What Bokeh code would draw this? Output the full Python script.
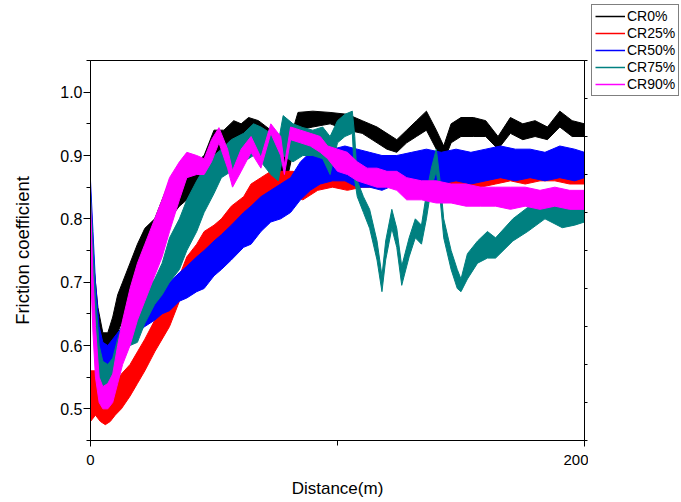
from bokeh.plotting import figure
from bokeh.layouts import row, column
from bokeh.models import (Range1d, LinearAxis, FixedTicker, Legend, LegendItem,
                          PrintfTickFormatter, Spacer)
from bokeh.embed import file_html
from bokeh.resources import INLINE

# ---------------- data ----------------
series_names = ["CR0%", "CR25%", "CR50%", "CR75%", "CR90%"]
series_colors = ["#000000", "#ff0000", "#0000ff", "#008080", "#ff00ff"]

cr0_d = [0, 1.5, 3, 5, 7, 9, 11, 13, 16, 19, 22, 26, 29, 32, 36, 39, 43, 46, 50, 54,
         58, 61, 64, 68, 73, 77, 80, 84, 90, 97, 104, 110, 116, 120, 124, 128, 132, 136, 140, 143,
         146, 150, 155, 160, 165, 170, 175, 180, 185, 190, 195, 200]
cr0_lo = [0.72, 0.63, 0.57, 0.55, 0.56, 0.59, 0.62, 0.64, 0.67, 0.71, 0.74, 0.765, 0.79, 0.80, 0.82, 0.83, 0.85, 0.845, 0.88, 0.89,
          0.90, 0.91, 0.91, 0.90, 0.88, 0.87, 0.87, 0.94, 0.945, 0.95, 0.94, 0.935, 0.92, 0.91, 0.905, 0.92, 0.93, 0.94, 0.91, 0.89,
          0.92, 0.93, 0.93, 0.93, 0.91, 0.935, 0.925, 0.93, 0.925, 0.945, 0.93, 0.93]
cr0_hi = [0.815, 0.72, 0.66, 0.62, 0.62, 0.645, 0.68, 0.70, 0.73, 0.76, 0.785, 0.80, 0.83, 0.86, 0.88, 0.90, 0.89, 0.90, 0.94, 0.94,
          0.955, 0.95, 0.96, 0.955, 0.94, 0.91, 0.915, 0.968, 0.97, 0.968, 0.965, 0.955, 0.945, 0.935, 0.925, 0.94, 0.955, 0.97, 0.94, 0.915,
          0.95, 0.96, 0.96, 0.955, 0.93, 0.96, 0.95, 0.955, 0.945, 0.97, 0.955, 0.95]

cr25_d = [0, 2, 4, 6, 8, 10, 12.5, 16, 19, 22, 26, 29, 32, 36, 39, 43, 46, 50, 53, 57,
          62, 65, 69, 73, 78, 82, 86, 92, 98, 104, 110, 116, 122, 128, 134, 140, 146, 152, 158, 164,
          170, 176, 182, 188, 194, 200]
cr25_lo = [0.48, 0.49, 0.48, 0.475, 0.48, 0.49, 0.50, 0.52, 0.54, 0.56, 0.59, 0.61, 0.63, 0.67, 0.70, 0.71, 0.73, 0.75, 0.76, 0.77,
           0.79, 0.81, 0.82, 0.83, 0.84, 0.835, 0.83, 0.845, 0.85, 0.845, 0.85, 0.85, 0.86, 0.865, 0.85, 0.85, 0.85, 0.85, 0.85, 0.855,
           0.86, 0.855, 0.86, 0.86, 0.855, 0.855]
cr25_hi = [0.56, 0.56, 0.52, 0.515, 0.52, 0.54, 0.555, 0.57, 0.59, 0.61, 0.64, 0.66, 0.68, 0.71, 0.74, 0.76, 0.78, 0.79, 0.80, 0.82,
           0.835, 0.855, 0.865, 0.875, 0.875, 0.875, 0.87, 0.88, 0.88, 0.88, 0.88, 0.88, 0.89, 0.895, 0.88, 0.88, 0.885, 0.885, 0.88, 0.89,
           0.895, 0.89, 0.895, 0.89, 0.885, 0.885]

cr50_d = [0, 1, 2, 3.5, 5, 7, 9, 11, 13, 16, 19, 22, 26, 29, 32, 36, 39, 43, 46, 50,
          53, 57, 62, 65, 69, 73, 77, 81, 85, 89, 93, 98, 103, 108, 113, 118, 124, 130, 136, 142,
          148, 154, 160, 166, 172, 178, 184, 190, 196, 200]
cr50_lo = [0.78, 0.70, 0.62, 0.58, 0.57, 0.565, 0.575, 0.585, 0.59, 0.605, 0.62, 0.63, 0.64, 0.65, 0.655, 0.67, 0.675, 0.685, 0.69, 0.71,
           0.72, 0.735, 0.755, 0.76, 0.78, 0.795, 0.80, 0.81, 0.83, 0.845, 0.855, 0.86, 0.86, 0.85, 0.85, 0.845, 0.855, 0.86, 0.86, 0.855,
           0.86, 0.855, 0.86, 0.865, 0.86, 0.865, 0.86, 0.865, 0.86, 0.865]
cr50_hi = [0.86, 0.78, 0.70, 0.63, 0.605, 0.60, 0.61, 0.62, 0.63, 0.645, 0.655, 0.665, 0.675, 0.69, 0.70, 0.715, 0.725, 0.74, 0.75, 0.765,
           0.775, 0.79, 0.81, 0.82, 0.835, 0.845, 0.855, 0.865, 0.89, 0.905, 0.91, 0.91, 0.915, 0.91, 0.905, 0.90, 0.90, 0.905, 0.91, 0.905,
           0.91, 0.905, 0.91, 0.915, 0.91, 0.91, 0.905, 0.915, 0.91, 0.905]

cr75_d = [0, 1, 2, 3.5, 5, 7, 9, 11, 13, 16, 19, 22, 26, 29, 32, 36, 39, 43, 46, 50,
          53, 57, 62, 66, 69, 73, 76, 78, 82, 86, 90, 94, 97, 100, 103, 106, 107, 108, 110.5, 113,
          116, 118, 119.5, 122, 124, 126, 129, 131.5, 134, 136, 138, 140, 141.7, 143, 146, 148.5, 150, 152.6, 156.7, 160.7,
          164, 171, 177, 184, 191, 196, 200]
cr75_lo = [0.75, 0.68, 0.60, 0.545, 0.53, 0.525, 0.535, 0.56, 0.59, 0.60, 0.605, 0.635, 0.665, 0.68, 0.70, 0.72, 0.75, 0.78, 0.81, 0.84,
           0.865, 0.875, 0.89, 0.90, 0.89, 0.87, 0.86, 0.90, 0.89, 0.90, 0.90, 0.895, 0.87, 0.92, 0.93, 0.935, 0.86, 0.835, 0.81, 0.785,
           0.735, 0.685, 0.735, 0.785, 0.755, 0.695, 0.74, 0.77, 0.76, 0.80, 0.85, 0.875, 0.825, 0.77, 0.72, 0.69, 0.685, 0.705, 0.73, 0.738,
           0.738, 0.765, 0.78, 0.80, 0.786, 0.79, 0.795]
cr75_hi = [0.84, 0.76, 0.68, 0.60, 0.575, 0.57, 0.58, 0.61, 0.635, 0.65, 0.665, 0.68, 0.705, 0.73, 0.77, 0.80, 0.83, 0.86, 0.88, 0.90,
           0.91, 0.925, 0.935, 0.95, 0.945, 0.935, 0.92, 0.963, 0.95, 0.944, 0.94, 0.945, 0.93, 0.955, 0.965, 0.97, 0.93, 0.86, 0.835, 0.815,
           0.765, 0.71, 0.765, 0.815, 0.785, 0.725, 0.77, 0.80, 0.79, 0.84, 0.88, 0.91, 0.855, 0.80, 0.75, 0.72, 0.705, 0.745, 0.765, 0.78,
           0.77, 0.80, 0.818, 0.83, 0.83, 0.82, 0.825]

cr90_d = [0, 1, 2, 3.5, 5, 7, 9, 11, 13, 16, 19, 22, 26, 29, 32, 36, 39, 43, 46, 49,
          52, 55.5, 57.5, 61, 65, 69, 73, 77, 78.5, 81, 85, 89, 93, 96, 100, 104, 108, 112, 116, 120,
          124, 128, 134, 140, 146, 152, 158, 164, 170, 176, 182, 188, 194, 200]
cr90_lo = [0.72, 0.62, 0.55, 0.51, 0.50, 0.50, 0.51, 0.54, 0.57, 0.60, 0.64, 0.67, 0.71, 0.74, 0.78, 0.83, 0.865, 0.87, 0.87, 0.89,
           0.92, 0.88, 0.85, 0.875, 0.905, 0.88, 0.935, 0.90, 0.87, 0.925, 0.92, 0.915, 0.905, 0.895, 0.875, 0.87, 0.86, 0.855, 0.85, 0.85,
           0.845, 0.83, 0.83, 0.825, 0.825, 0.82, 0.82, 0.82, 0.815, 0.82, 0.815, 0.82, 0.815, 0.815]
cr90_hi = [0.83, 0.71, 0.63, 0.55, 0.535, 0.54, 0.555, 0.60, 0.64, 0.69, 0.73, 0.76, 0.80, 0.83, 0.865, 0.89, 0.905, 0.90, 0.895, 0.925,
           0.944, 0.91, 0.876, 0.91, 0.93, 0.897, 0.95, 0.93, 0.885, 0.945, 0.94, 0.935, 0.93, 0.915, 0.91, 0.905, 0.89, 0.88, 0.88, 0.875,
           0.875, 0.865, 0.86, 0.86, 0.855, 0.855, 0.85, 0.85, 0.85, 0.85, 0.845, 0.85, 0.845, 0.845]

x_ticks = [0, 200]
x_minor_ticks = [100]
y_ticks = [0.5, 0.6, 0.7, 0.8, 0.9, 1.0]
y_minor_ticks = [0.45, 0.55, 0.65, 0.75, 0.85, 0.95, 1.05]
right_ticks = [0, 1, 2, 3, 4, 5, 6, 7, 8, 9, 10]

FONT = "Liberation Sans"

p = figure(frame_width=494, frame_height=380,
           min_border_left=90, min_border_right=4, min_border_top=60, min_border_bottom=60,
           x_range=Range1d(0, 200), y_range=Range1d(0.45, 1.05),
           output_backend="svg", toolbar_location=None)
p.xgrid.visible = False
p.ygrid.visible = False
p.outline_line_color = "black"
p.outline_line_width = 1
p.background_fill_color = "white"
p.border_fill_color = "white"

data = [(cr0_d, cr0_lo, cr0_hi), (cr25_d, cr25_lo, cr25_hi), (cr50_d, cr50_lo, cr50_hi),
        (cr75_d, cr75_lo, cr75_hi), (cr90_d, cr90_lo, cr90_hi)]

for (d, lo, hi), col in zip(data, series_colors):
    p.varea(x=d, y1=lo, y2=hi, fill_color=col, fill_alpha=1)
    p.line(d, lo, line_color=col, line_width=1)
    p.line(d, hi, line_color=col, line_width=1)

# x axis
xa = p.xaxis[0]
xa.ticker = FixedTicker(ticks=x_ticks, minor_ticks=x_minor_ticks)
xa.axis_label = "Distance(m)"
xa.major_tick_out = 6
xa.major_tick_in = 0
xa.minor_tick_out = 5
xa.minor_tick_in = 0
xa.major_label_standoff = 8
xa.axis_label_standoff = 11
xa.major_label_text_font_size = "15px"
xa.axis_label_text_font_size = "17px"

# y axis
ya = p.yaxis[0]
ya.ticker = FixedTicker(ticks=y_ticks, minor_ticks=y_minor_ticks)
ya.formatter = PrintfTickFormatter(format="%.1f")
ya.axis_label = "Friction coefficient"
ya.major_tick_out = 7
ya.major_tick_in = 0
ya.minor_tick_out = 4
ya.minor_tick_in = 0
ya.major_label_standoff = 1
ya.axis_label_standoff = 24
ya.major_label_text_font_size = "16px"
ya.axis_label_text_font_size = "18.5px"

for ax in (xa, ya):
    ax.axis_line_color = "black"
    ax.major_tick_line_color = "black"
    ax.minor_tick_line_color = "black"
    ax.major_label_text_font = FONT
    ax.major_label_text_color = "black"
    ax.axis_label_text_font = FONT
    ax.axis_label_text_font_style = "normal"
    ax.axis_label_text_color = "black"

# right mirror axis: unlabelled ticks only
p.extra_y_ranges = {"r": Range1d(0, 10)}
ra = LinearAxis(y_range_name="r", ticker=FixedTicker(ticks=[], minor_ticks=right_ticks),
                minor_tick_out=3, minor_tick_in=0, major_tick_out=0, major_tick_in=0,
                axis_line_color="black", minor_tick_line_color="black")
p.add_layout(ra, "right")

# ---------------- legend panel (top right, above the frame) ----------------
leg = figure(width=92, height=104, min_border=0,
             x_range=Range1d(0, 1), y_range=Range1d(0, 1),
             x_axis_type=None, y_axis_type=None, output_backend="svg", toolbar_location=None)
leg.outline_line_color = None
leg.xgrid.visible = False
leg.ygrid.visible = False
leg.background_fill_color = "white"
leg.border_fill_color = "white"

items = []
for (d, lo, hi), name, col in zip(data, series_names, series_colors):
    # single-point proxy line (draws nothing itself); it only carries the legend style
    r = leg.line(x=d[:1], y=lo[:1], line_color=col, line_width=1.5)
    items.append(LegendItem(label=name, renderers=[r]))

legend = Legend(items=items, location=(3, 8),
                label_text_font=FONT, label_text_font_size="14px", label_text_color="black",
                glyph_width=30, glyph_height=16, label_height=16, label_standoff=2,
                spacing=1, padding=3, margin=0,
                border_line_color="black", border_line_width=1,
                background_fill_color="white", background_fill_alpha=1)
leg.add_layout(legend)

right_col = column(leg, Spacer(width=92, height=396))
layout = row(p, right_col)
open("out.html", "w").write(file_html(layout, INLINE))
